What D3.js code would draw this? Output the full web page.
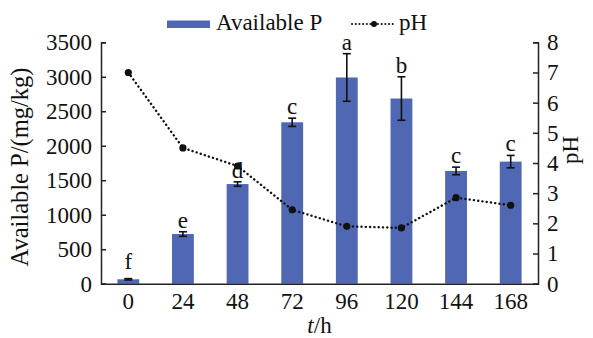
<!DOCTYPE html>
<html>
<head>
<meta charset="utf-8">
<script src="https://cdn.jsdelivr.net/npm/d3@7"></script>
<style>
  html, body { margin: 0; padding: 0; background: #ffffff; }
</style>
</head>
<body>
<svg id="chart" width="593" height="338" font-family="Liberation Serif"></svg>
<script>
const categories = ["0", "24", "48", "72", "96", "120", "144", "168"];
const availableP = [64, 720, 1445, 2340, 2990, 2685, 1635, 1770];
const availablePErr = [10, 33, 32, 60, 345, 315, 55, 90];
const letters = ["f", "e", "d", "c", "a", "b", "c", "c"];
const pH = [7.0, 4.5, 3.9, 2.45, 1.9, 1.85, 2.85, 2.6];
const leftTicks = [0, 500, 1000, 1500, 2000, 2500, 3000, 3500];
const rightTicks = [0, 1, 2, 3, 4, 5, 6, 7, 8];

const FONT = "Liberation Serif";
const svg = d3.select("#chart");
const L = 101, R = 538, T = 42.3, B = 283.7;
const barColor = "#5068b4";
const fs = 23;

const x = d3.scaleBand().domain(categories).range([L, R]).paddingInner(0.6).paddingOuter(0.3);
const yL = d3.scaleLinear().domain([0, 3500]).range([B, T]);
const yR = d3.scaleLinear().domain([0, 8]).range([B, T]);

// bars
svg.append("g").selectAll("rect").data(categories).join("rect")
  .attr("x", d => x(d))
  .attr("y", (d, i) => yL(availableP[i]))
  .attr("width", x.bandwidth())
  .attr("height", (d, i) => B - yL(availableP[i]))
  .attr("fill", barColor);

// error bars
const eg = svg.append("g").attr("stroke", "#111").attr("stroke-width", 1.6);
categories.forEach((c, i) => {
  const cx = x(c) + x.bandwidth() / 2;
  const y1 = yL(availableP[i] + availablePErr[i]);
  const y2 = yL(availableP[i] - availablePErr[i]);
  eg.append("line").attr("x1", cx).attr("x2", cx).attr("y1", y1).attr("y2", y2);
  eg.append("line").attr("x1", cx - 4).attr("x2", cx + 4).attr("y1", y1).attr("y2", y1);
  eg.append("line").attr("x1", cx - 4).attr("x2", cx + 4).attr("y1", y2).attr("y2", y2);
});

// significance letters
svg.append("g").selectAll("text").data(categories).join("text")
  .attr("x", d => x(d) + x.bandwidth() / 2)
  .attr("y", (d, i) => yL(availableP[i] + availablePErr[i]) - (letters[i] === "f" ? 10 : 4))
  .attr("text-anchor", "middle")
  .attr("font-family", FONT)
  .attr("font-size", fs)
  .attr("fill", "#111")
  .text((d, i) => letters[i]);

// pH line
const line = d3.line()
  .x((d, i) => x(categories[i]) + x.bandwidth() / 2)
  .y(d => yR(d));
svg.append("path").datum(pH)
  .attr("d", line)
  .attr("fill", "none")
  .attr("stroke", "#111")
  .attr("stroke-width", 2.4)
  .attr("stroke-dasharray", "0.1,4.2")
  .attr("stroke-linecap", "round");
svg.append("g").selectAll("circle").data(pH).join("circle")
  .attr("cx", (d, i) => x(categories[i]) + x.bandwidth() / 2)
  .attr("cy", d => yR(d))
  .attr("r", 3.6)
  .attr("fill", "#111");

// axes
const axL = svg.append("g").attr("transform", `translate(${L},0)`)
  .call(d3.axisLeft(yL).tickValues(leftTicks).tickFormat(d3.format("d")).tickSizeInner(-5).tickSizeOuter(-5).tickPadding(9));
const axR = svg.append("g").attr("transform", `translate(${R},0)`)
  .call(d3.axisRight(yR).tickValues(rightTicks).tickFormat(d3.format("d")).tickSizeInner(-5).tickSizeOuter(-5).tickPadding(9));
const axB = svg.append("g").attr("transform", `translate(0,${B})`)
  .call(d3.axisBottom(x).tickSize(0).tickSizeOuter(0).tickPadding(9));
[axL, axR, axB].forEach(a => {
  a.attr("font-family", FONT).attr("font-size", fs);
  a.selectAll("path, line").attr("stroke", "#222").attr("stroke-width", 1.5);
  a.selectAll("text").attr("font-family", FONT).attr("font-size", fs).attr("fill", "#111");
});

// axis titles
svg.append("text")
  .attr("transform", `translate(28,167) rotate(-90)`)
  .attr("text-anchor", "middle")
  .attr("font-family", FONT)
  .attr("font-size", 24.5)
  .attr("fill", "#111")
  .text("Available P/(mg/kg)");
svg.append("text")
  .attr("transform", `translate(578,150) rotate(-90)`)
  .attr("text-anchor", "middle")
  .attr("font-family", FONT)
  .attr("font-size", fs)
  .attr("fill", "#111")
  .text("pH");
const xt = svg.append("text")
  .attr("x", (L + R) / 2)
  .attr("y", 333)
  .attr("text-anchor", "middle")
  .attr("font-family", FONT)
  .attr("font-size", fs)
  .attr("fill", "#111");
xt.append("tspan").attr("font-style", "italic").text("t");
xt.append("tspan").text("/h");

// legend
const lg = svg.append("g");
lg.append("rect").attr("x", 167).attr("y", 20.5).attr("width", 43).attr("height", 7.5).attr("fill", barColor);
lg.append("text").attr("x", 216).attr("y", 29.5).attr("font-family", FONT).attr("font-size", fs).attr("fill", "#111").text("Available P");
lg.append("line").attr("x1", 352).attr("x2", 395).attr("y1", 24).attr("y2", 24)
  .attr("stroke", "#111").attr("stroke-width", 2).attr("stroke-dasharray", "0.1,3.6").attr("stroke-linecap", "round");
lg.append("circle").attr("cx", 374).attr("cy", 24).attr("r", 3).attr("fill", "#111");
lg.append("text").attr("x", 399).attr("y", 29.5).attr("font-family", FONT).attr("font-size", fs).attr("fill", "#111").text("pH");
</script>
</body>
</html>
